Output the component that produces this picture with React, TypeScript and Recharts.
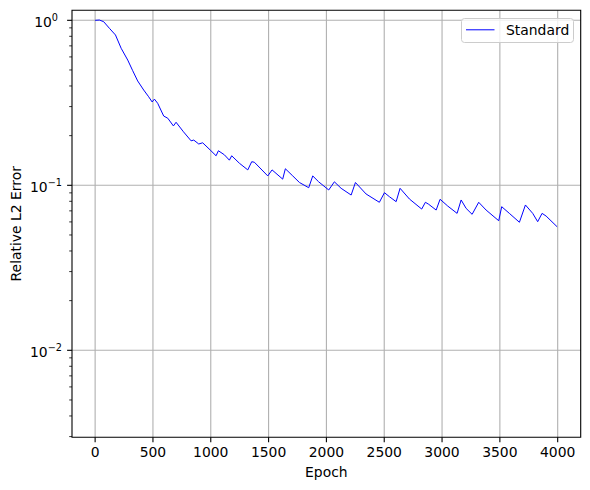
import { LineChart, Line, XAxis, YAxis, CartesianGrid, ReferenceArea, Legend } from "recharts";

// epoch / relative L2 error
const epochs = [
  0, 37, 74, 124, 176, 225, 282, 325, 368, 420, 463, 493, 513, 541, 593, 628, 677, 700, 764, 830,
  853, 896, 930, 994, 1046, 1066, 1118, 1161, 1181, 1248, 1320, 1354, 1377, 1493, 1530, 1622, 1645,
  1709, 1767, 1847, 1882, 1933, 2020, 2069, 2127, 2214, 2251, 2343, 2458, 2502, 2545, 2603, 2637,
  2718, 2824, 2856, 2885, 2949, 2983, 3049, 3130, 3165, 3208, 3260, 3317, 3381, 3490, 3516, 3582,
  3669, 3721, 3784, 3827, 3865, 3900, 3995,
];
const errors = [
  1.0, 1.004, 0.981, 0.894, 0.815, 0.677, 0.574, 0.495, 0.429, 0.378, 0.344, 0.32, 0.333, 0.314,
  0.263, 0.255, 0.229, 0.241, 0.211, 0.186, 0.188, 0.178, 0.181, 0.164, 0.151, 0.162, 0.153, 0.142,
  0.151, 0.136, 0.124, 0.139, 0.138, 0.114, 0.124, 0.109, 0.126, 0.114, 0.104, 0.0967, 0.114, 0.105,
  0.0937, 0.105, 0.0959, 0.0873, 0.104, 0.0886, 0.0789, 0.0902, 0.0853, 0.0796, 0.0959, 0.0826,
  0.0718, 0.0789, 0.0767, 0.0708, 0.0823, 0.0749, 0.0676, 0.0815, 0.0725, 0.0667, 0.0789, 0.0708,
  0.061, 0.0742, 0.0676, 0.0597, 0.076, 0.0676, 0.0602, 0.0676, 0.0651, 0.0561,
];

const xTicks = [0, 500, 1000, 1500, 2000, 2500, 3000, 3500, 4000];
const yMajor = [0.01, 0.1, 1];
const yMinor = [
  0.003, 0.004, 0.005, 0.006, 0.007, 0.008, 0.009,
  0.02, 0.03, 0.04, 0.05, 0.06, 0.07, 0.08, 0.09,
  0.2, 0.3, 0.4, 0.5, 0.6, 0.7, 0.8, 0.9,
];

const data = epochs.map((epoch, i) => ({ epoch, error: errors[i] }));

const FONT = "'DejaVu Sans', sans-serif";
const AXIS_X = 72;

function YTick(props: any) {
  const { y, payload } = props;
  const v = payload.value;
  const major = yMajor.includes(v);
  const exp = Math.round(Math.log10(v));
  return (
    <g>
      <line
        x1={AXIS_X - (major ? 4.9 : 2.8)}
        x2={AXIS_X}
        y1={y}
        y2={y}
        stroke="#000"
        strokeWidth={major ? 1.1 : 0.8}
      />
      {major && (
        <text
          x={exp === 0 ? 58 : 62}
          y={y + 6.5}
          textAnchor="end"
          fontFamily={FONT}
          fontSize={13.9}
          fill="#000"
        >
          10
          <tspan dy={-5.5} fontSize={9.7}>
            {exp === 0 ? "0" : "\u2212" + -exp}
          </tspan>
        </text>
      )}
    </g>
  );
}

function YLabel(props: any) {
  const vb = props.viewBox;
  return (
    <text
      transform={`translate(${vb.x + 20.7}, ${vb.y + vb.height / 2}) rotate(-90)`}
      textAnchor="middle"
      fontFamily={FONT}
      fontSize={13.9}
      fill="#000"
    >
      Relative L2 Error
    </text>
  );
}

function XLabel(props: any) {
  const vb = props.viewBox;
  return (
    <text
      x={vb.x + vb.width / 2}
      y={vb.y + 39.4}
      textAnchor="middle"
      fontFamily={FONT}
      fontSize={13.9}
      fill="#000"
    >
      Epoch
    </text>
  );
}

function LegendBox() {
  return (
    <svg width={113} height={25} style={{ display: "block" }}>
      <rect
        x={0.5}
        y={0.5}
        width={112}
        height={24}
        rx={3}
        fill="rgba(255,255,255,0.8)"
        stroke="#cccccc"
      />
      <line x1={5} x2={33.5} y1={11.8} y2={11.8} stroke="#0000ff" strokeWidth={1} />
      <text x={45} y={16.5} fontFamily={FONT} fontSize={13.9} fill="#000">
        Standard
      </text>
    </svg>
  );
}

export default function App() {
  return (
    <div style={{ position: "absolute", left: 0, top: 0, background: "#fff" }}>
      <LineChart
        width={590}
        height={490}
        data={data}
        margin={{ top: 10.3, right: 9.3, bottom: 0, left: 0 }}
      >
        <CartesianGrid
          stroke="#b0b0b0"
          strokeWidth={1.1}
          verticalValues={xTicks}
          horizontalValues={yMajor}
        />
        <XAxis
          dataKey="epoch"
          type="number"
          domain={[-200, 4199]}
          ticks={xTicks}
          interval={0}
          allowDataOverflow
          height={52.7}
          axisLine={false}
          tickSize={4.9}
          tickMargin={4.9}
          tickLine={{ stroke: "#000", strokeWidth: 1.1 }}
          tick={{ fontSize: 13.9, fill: "#000", fontFamily: FONT }}
          label={<XLabel />}
        />
        <YAxis
          type="number"
          scale="log"
          domain={[0.00297, 1.15]}
          allowDataOverflow
          ticks={[...yMinor, ...yMajor]}
          interval={0}
          width={72}
          axisLine={false}
          tickLine={false}
          tick={(p: any) => <YTick {...p} />}
          label={<YLabel />}
        />
        <Line
          type="linear"
          dataKey="error"
          name="Standard"
          stroke="#0000ff"
          strokeWidth={1}
          dot={false}
          activeDot={false}
          isAnimationActive={false}
        />
        <ReferenceArea
          x1={-200}
          x2={4199}
          y1={0.00297}
          y2={1.15}
          fill="none"
          stroke="#000"
          strokeWidth={1.1}
        />
        <Legend
          layout="horizontal"
          verticalAlign="middle"
          align="center"
          wrapperStyle={{ left: 460.5, top: 17.5, width: 113, height: 25 }}
          content={() => <LegendBox />}
        />
      </LineChart>
    </div>
  );
}
